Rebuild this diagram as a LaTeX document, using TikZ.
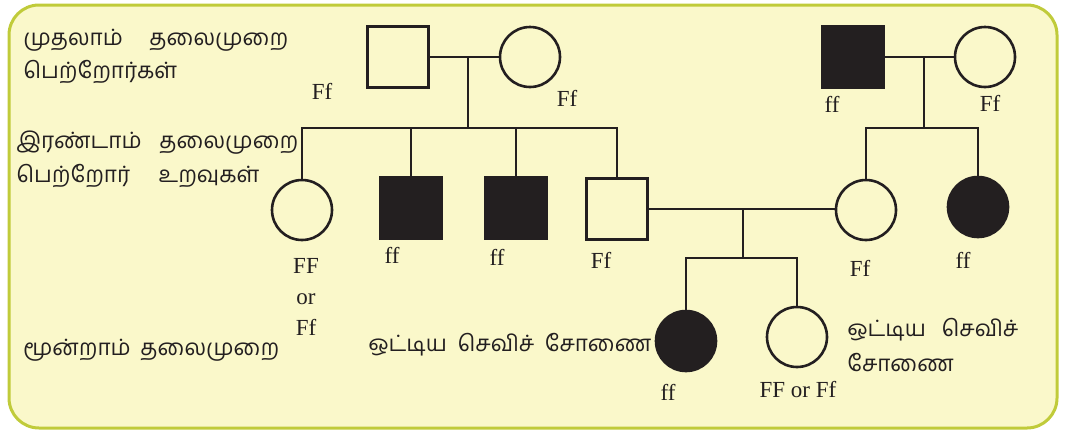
\documentclass[tikz,border=0pt]{standalone}
\usepackage{fontspec}
\setmainfont{Liberation Serif}
\newfontfamily\tamil[Script=Tamil]{Hind Madurai}
\definecolor{bg}{RGB}{250,248,202}
\definecolor{rim}{RGB}{192,203,58}
\definecolor{ink}{RGB}{35,31,32}
\begin{document}
\begin{tikzpicture}
  [x=1pt, y=-1pt, line width=2.6pt, color=ink,
   male/.style={draw, rectangle, minimum size=61pt, inner sep=0pt},
   female/.style={draw, circle, minimum size=60pt, inner sep=0pt},
   hit/.style={fill=ink},
   gt/.style={font=\fontsize{23}{31}\selectfont, inner sep=0pt, align=center},
   ta/.style={font=\tamil\fontsize{22.5}{26}\selectfont, anchor=west, inner sep=0pt}]
  \useasboundingbox (0,0) rectangle (1065,432);
  \draw[rim, fill=bg, line width=3pt, rounded corners=30pt] (9,5) rectangle (1057,428);
  % first generation
  \node[male] (p1) at (398,57) {};
  \node[female] (p2) at (530,57) {};
  \node[male, hit] (p3) at (853,57) {};
  \node[female] (p4) at (985,57) {};
  \coordinate (m1) at (468,57);
  \coordinate (s1) at (468,128);
  \coordinate (m2) at (924,57);
  \coordinate (s2) at (924,128);
  % second generation
  \node[female] (c1) at (302,210) {};
  \node[male, hit] (c2) at (411,208) {};
  \node[male, hit] (c3) at (516,208) {};
  \node[male] (c4) at (617,209) {};
  \node[female] (c5) at (866,210) {};
  \node[female, hit] (c6) at (978,207) {};
  \coordinate (m3) at (743,209);
  \coordinate (s3) at (743,258);
  % third generation
  \node[female, hit] (g1) at (686,341) {};
  \node[female] (g2) at (797,337) {};
  % lines
  \draw (p1) -- (p2);
  \draw (m1) -- (s1);
  \draw (c1) |- (s1) -| (c4);
  \draw (c2) -- (c2 |- s1);
  \draw (c3) -- (c3 |- s1);
  \draw (p3) -- (p4);
  \draw (m2) -- (s2);
  \draw (c5) |- (s2) -| (c6);
  \draw (c4.east) -- (c5.west |- c4.east);
  \draw (m3) -- (s3);
  \draw (g1) |- (s3) -| (g2);
  % genotypes
  \node[gt] (f1) at (322,91) {Ff};
  \node[gt] (f2) at (567,98) {Ff};
  \node[gt] (f3) at (832,104) {ff};
  \node[gt] (f4) at (990,103) {Ff};
  \node[gt] (f5) at (306,297) {FF\\or\\Ff};
  \node[gt] (f6) at (392,255) {ff};
  \node[gt] (f7) at (497,257) {ff};
  \node[gt] (f8) at (601,260) {Ff};
  \node[gt] (f9) at (860,268) {Ff};
  \node[gt] (f10) at (963,260) {ff};
  \node[gt] (f11) at (668,392) {ff};
  \node[gt] (f12) at (798,390) {FF or Ff};
  % generation names
  \node[ta] (t1) at (22,40) {\makebox[265pt][s]{முதலாம் தலைமுறை}};
  \node[ta] (t2) at (22,72) {பெற்றோர்கள்};
  \node[ta] (t3) at (15,143) {\makebox[282pt][s]{இரண்டாம் தலைமுறை}};
  \node[ta] (t4) at (15,176) {\makebox[243pt][s]{பெற்றோர் உறவுகள்}};
  \node[ta] (t5) at (22,350) {\makebox[256pt][s]{மூன்றாம் தலைமுறை}};
  \node[ta] (t6) at (367,345) {\makebox[283pt][s]{ஒட்டிய செவிச் சோணை}};
  \node[ta] (t7) at (846,330) {\makebox[171pt][s]{ஒட்டிய செவிச்}};
  \node[ta] (t8) at (846,363) {சோணை};
\end{tikzpicture}
\end{document}
